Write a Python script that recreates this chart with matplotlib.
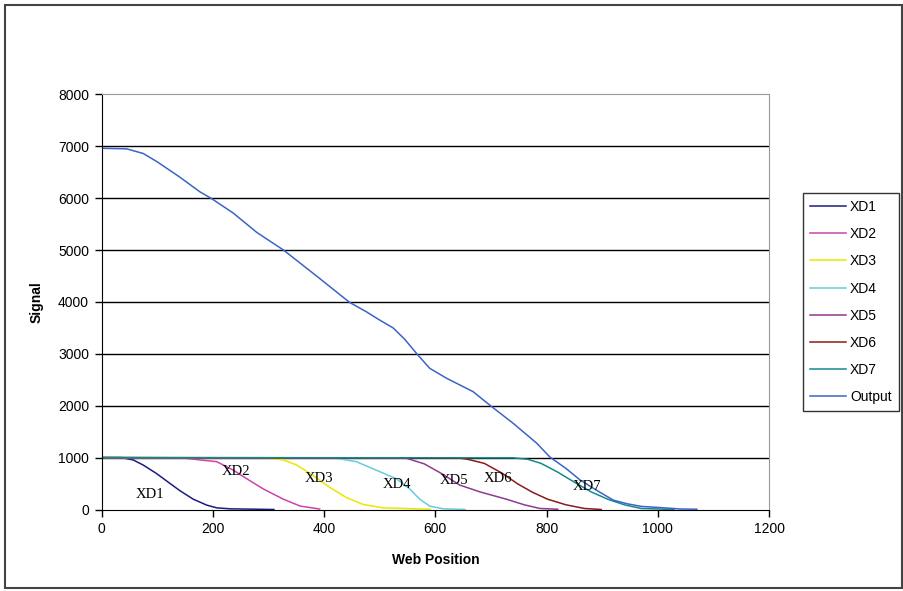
import matplotlib
matplotlib.use('Agg')
import matplotlib.pyplot as plt
from matplotlib.patches import Rectangle

# data
xd1_x = [0, 36, 57, 75, 99, 120, 141, 165, 189, 207, 231, 310]
xd1_y = [1000, 1000, 955, 856, 692, 526, 362, 198, 85, 32, 13, 0]
xd2_x = [0, 150, 177, 207, 237, 261, 291, 327, 357, 392]
xd2_y = [1000, 990, 955, 922, 757, 593, 395, 198, 66, 10]
xd3_x = [0, 297, 327, 351, 380, 410, 440, 470, 506, 590]
xd3_y = [1000, 988, 955, 856, 659, 428, 231, 99, 32, 5]
xd4_x = [0, 422, 458, 494, 530, 554, 572, 590, 614, 653]
xd4_y = [1000, 988, 922, 757, 593, 395, 198, 66, 13, 0]
xd5_x = [0, 548, 580, 610, 644, 680, 728, 760, 788, 820]
xd5_y = [1000, 988, 880, 700, 470, 340, 198, 90, 20, 5]
xd6_x = [0, 640, 658, 688, 720, 748, 775, 802, 835, 868, 898]
xd6_y = [1000, 995, 968, 889, 700, 494, 330, 198, 90, 20, 0]
xd7_x = [0, 740, 766, 790, 820, 850, 880, 910, 940, 970, 1029]
xd7_y = [1000, 995, 968, 889, 720, 526, 340, 198, 90, 20, 0]
out_x = [0, 45, 75, 100, 140, 177, 198, 237, 279, 327, 390, 446, 476, 500,
         524, 545, 566, 590, 620, 668, 698, 740, 782, 806, 835, 860, 890,
         920, 945, 970, 1000, 1040, 1070]
out_y = [6960, 6950, 6860, 6700, 6410, 6120, 5990, 5710, 5340, 5000, 4470,
         3990, 3810, 3650, 3500, 3280, 3010, 2720, 2530, 2270, 2010, 1660,
         1280, 1010, 790, 570, 370, 180, 110, 60, 40, 10, 5]

names = ['XD1', 'XD2', 'XD3', 'XD4', 'XD5', 'XD6', 'XD7', 'Output']
label_x = [88, 242, 390, 531, 633, 712, 872]
label_y = [280, 730, 590, 490, 550, 600, 440]
x_ticks = [0, 200, 400, 600, 800, 1000, 1200]
y_ticks = [0, 1000, 2000, 3000, 4000, 5000, 6000, 7000, 8000]

colors = ['#1c1c80', '#cc44aa', '#e8e800', '#66ccdd', '#8e3a8e', '#8b1a1a',
          '#128a8a', '#3a64c8']

plt.rcParams['font.family'] = ['Liberation Sans', 'DejaVu Sans']

fig = plt.figure(figsize=(9.04, 5.91), dpi=100)
ax = fig.add_axes([0.1123, 0.1379, 0.7385, 0.7025])

series = [(xd1_x, xd1_y), (xd2_x, xd2_y), (xd3_x, xd3_y), (xd4_x, xd4_y),
          (xd5_x, xd5_y), (xd6_x, xd6_y), (xd7_x, xd7_y), (out_x, out_y)]
for (xs, ys), name, c in zip(series, names, colors):
    ax.plot(xs, ys, color=c, lw=1.1, label=name)

for i in range(7):
    ax.text(label_x[i], label_y[i], names[i], ha='center', va='center',
            fontsize=10.5, family=['Liberation Serif', 'DejaVu Serif'])

ax.set_xlim(0, 1200)
ax.set_ylim(0, 8000)
ax.set_xticks(x_ticks)
ax.set_yticks(y_ticks)
ax.tick_params(direction='out', length=5, width=1, labelsize=10, pad=4)
for y in y_ticks[1:-1]:
    ax.axhline(y, color='black', lw=1, zorder=0)
ax.spines['left'].set_color('black')
ax.spines['bottom'].set_color('black')
ax.spines['top'].set_color('#999999')
ax.spines['right'].set_color('#999999')

ax.set_xlabel('Web Position', fontsize=10, fontweight='bold', labelpad=12)
ax.set_ylabel('Signal', fontsize=10, fontweight='bold', labelpad=10)

leg = fig.legend(loc='upper left', bbox_to_anchor=(0.888, 0.6734),
                 fontsize=10, frameon=True, fancybox=False, edgecolor='black',
                 handlelength=2.6, handletextpad=0.3, labelspacing=0.95,
                 borderpad=0.5, borderaxespad=0)
leg.get_frame().set_linewidth(1)

fig.patches.append(Rectangle((0.006, 0.005), 0.992, 0.986, transform=fig.transFigure,
                             fill=False, edgecolor='#444444', lw=1.5))

fig.savefig('out.png', dpi=100)
